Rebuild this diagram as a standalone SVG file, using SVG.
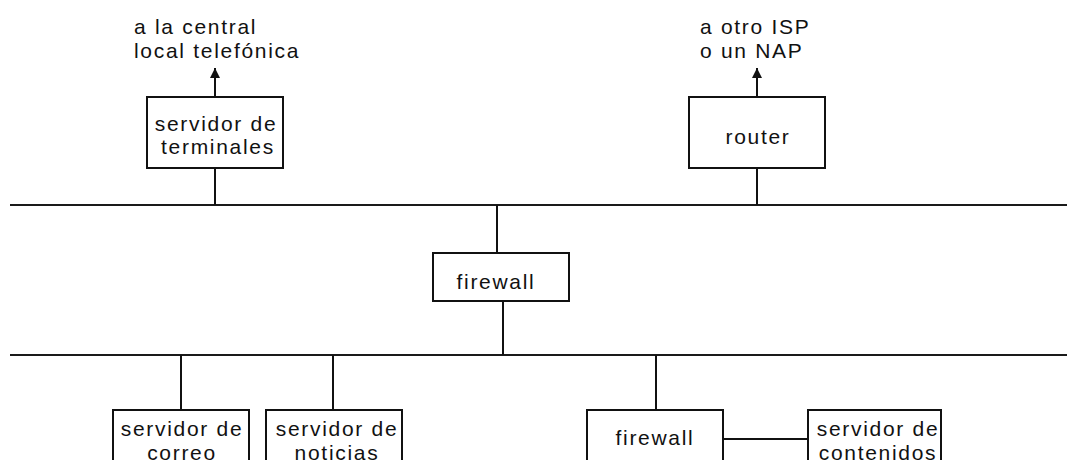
<svg xmlns="http://www.w3.org/2000/svg" width="1067" height="460" viewBox="0 0 1067 460">
  <style>
    .box { fill: #ffffff; stroke: #111111; stroke-width: 2; }
    .wire { fill: none; stroke: #111111; stroke-width: 2; }
    .bus { fill: none; stroke: #1a1a1a; stroke-width: 2.2; }
    text { font-family: "Liberation Sans", Arial, Helvetica, sans-serif; font-size: 21px; letter-spacing: 1.7px; fill: #111111; }
    .c { text-anchor: middle; }
  </style>
  <defs>
    <marker id="arrow" markerUnits="userSpaceOnUse" markerWidth="12" markerHeight="12" refX="10" refY="5" orient="auto">
      <path d="M0,0 L10,5 L0,10 Z" fill="#111111"/>
    </marker>
  </defs>

  <rect width="1067" height="460" fill="#ffffff"/>

  <!-- network segments and links -->
  <g id="connectors">
    <line class="bus" x1="10" y1="205" x2="1067" y2="205"/>
    <line class="bus" x1="10" y1="355" x2="1067" y2="355"/>
    <line class="wire" x1="215" y1="97" x2="215" y2="68" marker-end="url(#arrow)"/>
    <line class="wire" x1="757" y1="97" x2="757" y2="68" marker-end="url(#arrow)"/>
    <line class="wire" x1="215" y1="168" x2="215" y2="205"/>
    <line class="wire" x1="757" y1="168" x2="757" y2="205"/>
    <line class="wire" x1="497" y1="205" x2="497" y2="253"/>
    <line class="wire" x1="503" y1="301" x2="503" y2="355"/>
    <line class="wire" x1="181" y1="355" x2="181" y2="410"/>
    <line class="wire" x1="333" y1="355" x2="333" y2="410"/>
    <line class="wire" x1="656" y1="355" x2="656" y2="410"/>
    <line class="wire" x1="723" y1="439" x2="808" y2="439"/>
  </g>

  <g id="label-central">
    <text x="134" y="34">a la central</text>
    <text x="134" y="58">local telefónica</text>
  </g>

  <g id="label-isp">
    <text x="700" y="34">a otro ISP</text>
    <text x="700" y="58">o un NAP</text>
  </g>

  <g id="servidor-terminales">
    <rect class="box" x="147" y="97" width="136" height="71"/>
    <text class="c" x="216" y="131">servidor de</text>
    <text class="c" x="218" y="154">terminales</text>
  </g>

  <g id="router">
    <rect class="box" x="689" y="97" width="136" height="71"/>
    <text class="c" x="758" y="144">router</text>
  </g>

  <g id="firewall-1">
    <rect class="box" x="433" y="253" width="136" height="48"/>
    <text class="c" x="496" y="289">firewall</text>
  </g>

  <g id="servidor-correo">
    <rect class="box" x="113" y="410" width="136" height="71"/>
    <text class="c" x="182" y="436">servidor de</text>
    <text class="c" x="182" y="460">correo</text>
  </g>

  <g id="servidor-noticias">
    <rect class="box" x="266" y="410" width="136" height="71"/>
    <text class="c" x="337" y="436">servidor de</text>
    <text class="c" x="337" y="460">noticias</text>
  </g>

  <g id="firewall-2">
    <rect class="box" x="587" y="410" width="136" height="71"/>
    <text class="c" x="655" y="445">firewall</text>
  </g>

  <g id="servidor-contenidos">
    <rect class="box" x="808" y="410" width="133" height="71"/>
    <text class="c" x="878" y="436">servidor de</text>
    <text class="c" x="878" y="460">contenidos</text>
  </g>
</svg>
